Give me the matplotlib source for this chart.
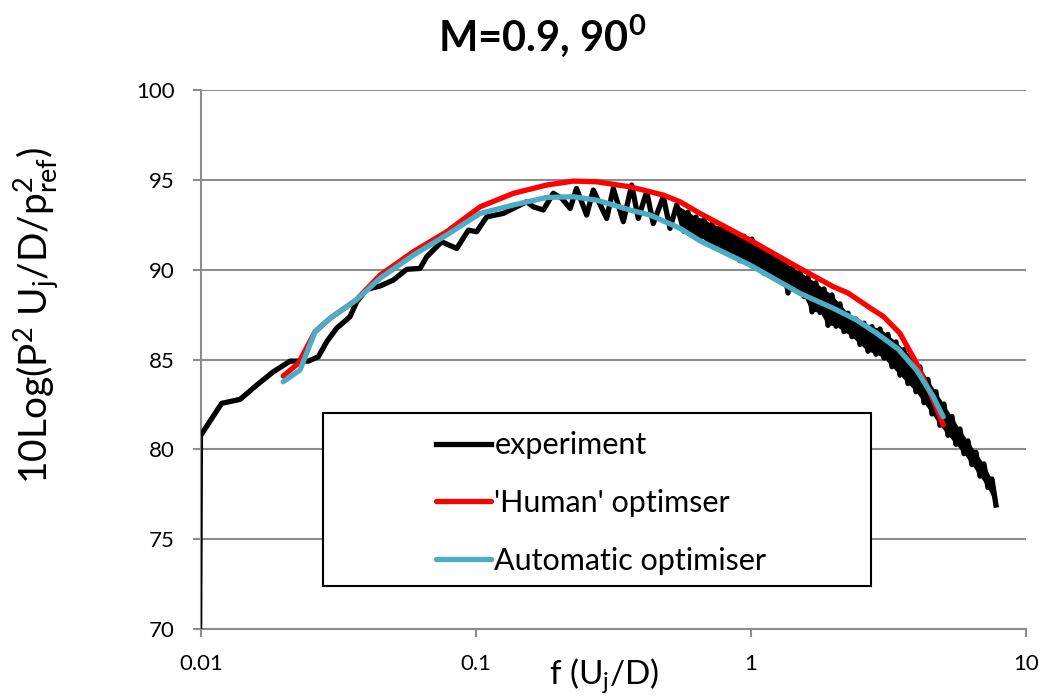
import matplotlib
matplotlib.use("Agg")
import matplotlib.pyplot as plt
from matplotlib.patches import Rectangle

plt.rcParams['font.family'] = ['Lato', 'DejaVu Sans']
plt.rcParams['mathtext.fontset'] = 'custom'
plt.rcParams['mathtext.rm'] = 'Lato'
plt.rcParams['mathtext.it'] = 'Lato:italic'
plt.rcParams['mathtext.bf'] = 'Lato:bold'

# ---- data ----
exp_f = [0.01, 0.0101, 0.01189, 0.01387, 0.01596, 0.01833, 0.0211, 0.02455, 0.0267,
         0.02866, 0.0311, 0.0348, 0.0368, 0.0400, 0.0448, 0.0500, 0.0560, 0.0626,
         0.0662, 0.0750, 0.0851, 0.0938, 0.1005, 0.1094, 0.1257, 0.1367, 0.1529,
         0.1615, 0.1757, 0.191, 0.205, 0.220, 0.232, 0.2526, 0.2670, 0.2987, 0.3157,
         0.3433, 0.3683, 0.3892, 0.4175, 0.4412, 0.4799, 0.5075, 0.5369,
         0.5706, 0.5900, 0.6101, 0.6309, 0.6524, 0.6746, 0.6976, 0.7213, 0.7459,
         0.7713, 0.7976, 0.8247, 0.8528, 0.8818, 0.9119, 0.9429, 0.9750, 1.0082,
         1.0426, 1.0781, 1.1148, 1.1528, 1.1920, 1.2326, 1.2746, 1.3180, 1.3629,
         1.4093, 1.4573, 1.5069, 1.5582, 1.6113, 1.6662, 1.7229, 1.7816, 1.8423,
         1.9050, 1.9699, 2.0370, 2.1063, 2.1781, 2.2522, 2.3289, 2.4083, 2.4903,
         2.5751, 2.6628, 2.7535, 2.8472, 2.9442, 3.0444, 3.1481, 3.2553, 3.3662,
         3.4808, 3.5993, 3.7219, 3.8486, 3.9797, 4.1152, 4.2553, 4.4002, 4.5501,
         4.7050, 4.8652, 5.0309, 5.2022, 5.3793, 5.5625, 5.7519, 5.9478, 6.1503,
         6.3597, 6.5763, 6.8002, 7.0318, 7.2712, 7.5188, 7.7748]
exp_v = [65.0, 80.9, 82.56, 82.78, 83.58, 84.32, 84.91, 84.91, 85.15,
         85.99, 86.73, 87.38, 88.2, 88.9, 89.09, 89.42, 90.02, 90.07,
         90.72, 91.55, 91.18, 92.20, 92.11, 92.94, 93.13, 93.41, 93.78,
         93.50, 93.32, 94.25, 93.97, 93.41, 94.52, 93.04, 94.43, 92.85, 94.52,
         92.67, 94.71, 92.85, 94.34, 92.57, 94.06, 92.30, 93.6,
         92.13, 93.20, 91.90, 92.93, 91.80, 92.80, 91.55, 92.54, 91.25,
         92.37, 91.08, 92.25, 90.83, 92.02, 90.50, 91.86, 90.34, 91.70,
         90.12, 91.32, 89.80, 91.05, 89.65, 90.70, 89.42, 90.45, 88.70,
         90.12, 88.89, 89.85, 88.51, 89.57, 87.65, 89.27, 87.62, 88.93,
         86.90, 88.60, 86.85, 88.10, 86.55, 87.58, 86.27, 87.25, 85.84,
         87.02, 85.46, 86.83, 85.29, 86.70, 85.08, 86.40, 84.60, 85.98,
         84.13, 85.56, 83.66, 85.13, 83.21, 84.59, 82.60, 83.89, 81.97,
         83.21, 81.34, 82.52, 80.78, 81.83, 80.28, 81.13, 79.76, 80.47,
         79.15, 79.83, 78.51, 79.19, 77.87, 78.35, 76.9]

human_f = [0.0199, 0.0226, 0.026, 0.0295, 0.0366, 0.0448, 0.0592, 0.0782, 0.1035,
           0.1368, 0.1808, 0.2259, 0.2748, 0.3633, 0.4295, 0.4801, 0.552, 0.653,
           0.991, 1.507, 1.992, 2.253, 2.754, 3.027, 3.48, 4.0, 4.6, 5.0]
human_v = [84.08, 84.79, 86.55, 87.3, 88.3, 89.7, 91.0, 92.11, 93.50,
           94.25, 94.71, 94.93, 94.89, 94.61, 94.34, 94.15, 93.78, 93.13,
           91.65, 90.07, 89.05, 88.7, 87.8, 87.4, 86.46, 84.79, 82.74, 81.35]

auto_f = [0.0199, 0.0229, 0.026, 0.0295, 0.0366, 0.0448, 0.0592, 0.0782, 0.1035,
          0.1368, 0.1808, 0.2259, 0.2748, 0.3633, 0.4295, 0.552, 0.653,
          0.991, 1.507, 1.992, 2.42, 2.864, 3.43, 4.0, 4.6, 5.0]
auto_v = [83.76, 84.41, 86.55, 87.3, 88.3, 89.52, 90.81, 91.93, 93.13,
          93.60, 94.02, 94.06, 93.87, 93.32, 93.04, 92.3, 91.6,
          90.26, 88.68, 87.85, 87.20, 86.46, 85.58, 84.41, 82.93, 81.81]

series_labels = ["experiment", "'Human' optimser", "Automatic optimiser"]
x_ticks = [0.01, 0.1, 1, 10]
x_ticklabels = ["0.01", "0.1", "1", "10"]
y_ticks = [70, 75, 80, 85, 90, 95, 100]

# ---- figure ----
W, H = 1041, 697
fig = plt.figure(figsize=(W / 100, H / 100), dpi=100)
ax = fig.add_axes([201 / W, (H - 629) / H, (1026 - 201) / W, (629 - 90) / H])

grid_c = '#8c8c8c'
ax.set_xscale('log')
ax.set_xlim(0.01, 10)
ax.set_ylim(70, 100)
ax.set_yticks(y_ticks)
ax.set_xticks(x_ticks)
ax.set_xticklabels(x_ticklabels)
ax.minorticks_off()
ax.yaxis.grid(True, color=grid_c, linewidth=1.5)
ax.set_axisbelow(True)
for s in ['top', 'right']:
    ax.spines[s].set_visible(False)
for s in ['left', 'bottom']:
    ax.spines[s].set_color(grid_c)
    ax.spines[s].set_linewidth(1.5)
ax.tick_params(axis='both', direction='out', length=6, width=1.5, color=grid_c,
               labelsize=16, labelcolor='black')
ax.tick_params(axis='y', pad=13)
ax.tick_params(axis='x', pad=12)

lw = 3.8
# thin steep opening segment of experiment, then thick rest
ax.plot(exp_f[:2], exp_v[:2], color='black', lw=1.3, zorder=3)
l_exp, = ax.plot(exp_f[1:], exp_v[1:], color='black', lw=lw, zorder=3,
                 solid_joinstyle='round', label=series_labels[0])
# dense oscillation region: fill between the peak envelope and the trough envelope
k = 44
hi_f, hi_v = exp_f[k::2], exp_v[k::2]
lo_f, lo_v = exp_f[k + 1::2], exp_v[k + 1::2]
ax.fill(hi_f + lo_f[::-1], hi_v + lo_v[::-1], color='black', lw=0, zorder=3)

l_hum, = ax.plot(human_f, human_v, color='#ff0000', lw=lw, zorder=4,
                 solid_capstyle='round', label=series_labels[1])
l_aut, = ax.plot(auto_f, auto_v, color='#4bacc6', lw=lw, zorder=5,
                 solid_capstyle='round', label=series_labels[2])

# legend box
box = Rectangle((323, H - 586), 871 - 323, 586 - 413, transform=None,
                facecolor='white', edgecolor='black', linewidth=1.5, zorder=6)
fig.patches.append(box)
leg = fig.legend(handles=[l_exp, l_hum, l_aut], loc='upper left',
                 bbox_to_anchor=(421 / W, (H - 416) / H), frameon=False,
                 fontsize=22, handlelength=1.8, handletextpad=0.1,
                 labelspacing=0.97, borderpad=0)
leg.set_zorder(7)
for t in leg.get_texts():
    t.set_color('black')

fig.text(542 / W, (H - 36) / H, r'M=0.9, 90$^{\mathbf{0}}$', ha='center', va='center',
         fontsize=30, fontweight='bold')
fig.text(36 / W, (H - 316) / H,
         r'10Log(P$^\mathregular{2}$ U$_\mathregular{j}$/D/p$_\mathregular{ref}^\mathregular{2}$)',
         rotation=90, ha='center', va='center', fontsize=28)
fig.text(604 / W, (H - 676) / H, r'f (U$_\mathregular{j}$/D)', ha='center', va='center',
         fontsize=24)

fig.savefig('out.png', dpi=100)
